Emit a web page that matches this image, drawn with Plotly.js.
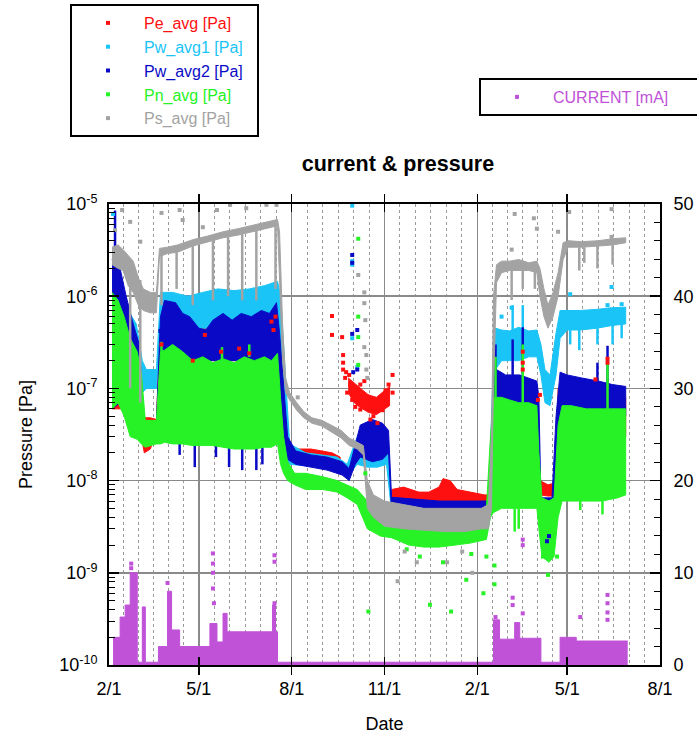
<!DOCTYPE html>
<html><head><meta charset="utf-8">
<script src="https://cdn.plot.ly/plotly-3.0.1.min.js"></script>
<style>html,body{margin:0;padding:0;background:#fff}</style>
</head><body><div id="chart" style="width:697px;height:736px"></div>
<script>
// ---------------- DATA ----------------
const xTickDates  = ['2021-02-01','2021-05-01','2021-08-01','2021-11-01','2022-02-01','2022-05-01','2022-08-01'];
const xTickLabels = ['2/1','5/1','8/1','11/1','2/1','5/1','8/1'];
const yTickVals   = [1e-10,1e-9,1e-8,1e-7,1e-6,1e-5];
const yTickLabels = ['10<sup>-10</sup>','10<sup>-9</sup>','10<sup>-8</sup>','10<sup>-7</sup>','10<sup>-6</sup>','10<sup>-5</sup>'];

const seriesNames = ['Pe_avg [Pa]','Pw_avg1 [Pa]','Pw_avg2 [Pa]','Pn_avg [Pa]','Ps_avg [Pa]','CURRENT [mA]'];

// Pe_avg : dense band rows [date, low, high]; null row = gap
const peBand = [
 ['2021-02-04',6e-8,1e-6],['2021-02-20',6e-8,5e-7],['2021-03-03',4e-8,1e-7],['2021-03-08',2e-8,4.8e-8],
 ['2021-03-14',2.2e-8,4.8e-8],['2021-03-20',3.5e-8,4.6e-8],['2021-03-24',2e-7,6e-7],['2021-04-15',2e-7,5e-7],
 ['2021-05-15',2e-7,5e-7],['2021-06-15',2e-7,5e-7],['2021-07-18',2e-7,5e-7],['2021-07-22',3e-8,2e-7],
 ['2021-07-26',1.5e-8,2.4e-8],['2021-08-01',1.6e-8,2.1e-8],['2021-08-07',1.6e-8,2.2e-8],['2021-08-20',1.7e-8,2.2e-8],
 ['2021-09-01',1.7e-8,2.1e-8],['2021-09-10',1.6e-8,2e-8],['2021-09-18',1.3e-8,1.8e-8],
 null,
 ['2021-09-26',9e-8,1.3e-7],['2021-10-02',7e-8,1.15e-7],['2021-10-08',6.2e-8,1e-7],['2021-10-16',5.5e-8,8.5e-8],
 ['2021-10-24',5.2e-8,8e-8],['2021-11-01',6e-8,9.5e-8],['2021-11-06',6.5e-8,1.05e-7],
 null,
 ['2021-11-08',5.8e-9,8e-9],['2021-11-20',5.5e-9,8.5e-9],['2021-12-05',5.5e-9,7.5e-9],['2021-12-15',5.5e-9,7.5e-9],
 ['2021-12-25',5.8e-9,8.5e-9],['2021-12-29',6e-9,1.05e-8],['2022-01-05',6e-9,1e-8],['2022-01-12',5.5e-9,8e-9],
 ['2022-01-25',5.3e-9,7.5e-9],['2022-02-08',5.3e-9,7e-9],['2022-02-13',5.5e-9,7e-9],['2022-02-16',1e-8,5e-8],
 ['2022-02-20',3e-8,1.2e-7],['2022-04-01',3e-8,1e-7],['2022-04-04',7e-9,1e-8],['2022-04-12',6.8e-9,9e-9],
 ['2022-04-20',6.8e-9,9.5e-9],['2022-04-22',3e-8,1e-7],['2022-06-28',3e-8,8e-8]
];
const peSpikes = [];
const peDots = [
 ['2021-03-25',3e-7],['2021-04-25',2e-7],['2021-05-07',3.8e-7],['2021-05-23',2.5e-7],['2021-06-10',2.7e-7],
 ['2021-06-20',2.4e-7],['2021-07-12',5.3e-7],['2021-07-14',4.3e-7],['2021-07-16',6e-7],
 ['2021-09-10',6.1e-7],['2021-09-10',3.8e-7],['2021-09-20',3.6e-7],['2021-09-21',2.3e-7],['2021-09-21',1.9e-7],
 ['2021-09-21',1.6e-7],['2021-09-23',1.3e-7],['2021-09-28',1.1e-7],['2021-09-25',9e-8],['2021-09-30',7.5e-8],
 ['2021-10-05',9.5e-8],['2021-10-08',1.1e-7],['2021-10-03',6.3e-8],['2021-10-11',7e-8],['2021-10-18',6.3e-8],
 ['2021-10-21',5e-8],['2021-10-25',4.2e-8],['2021-10-28',8e-8],['2021-11-02',9.5e-8],['2021-11-05',1.1e-7],
 ['2021-11-09',1.4e-7],['2021-11-09',9e-8],['2021-11-04',7e-8],['2021-10-15',8.2e-8],['2021-10-30',5.8e-8],
 ['2021-10-18',4.6e-8],['2021-10-08',5.9e-8],['2021-09-24',1.5e-7],['2021-09-27',1.4e-7],['2021-10-12',1.2e-7],
 ['2022-03-18',2.5e-7],['2022-03-18',1.9e-7],['2022-03-18',1.6e-7],['2022-06-10',2.1e-7],['2022-06-10',1.9e-7],
 ['2022-05-29',1.25e-7],['2022-04-02',7.5e-8],['2022-04-04',8.5e-8]
];

// Pw_avg1
const pw1Band = [
 ['2021-02-04',8e-8,1.8e-6],['2021-02-12',8e-8,1.6e-6],['2021-02-20',6e-8,7e-7],['2021-02-28',5e-8,5e-7],
 ['2021-03-06',9e-8,2e-7],['2021-03-10',1e-7,1.6e-7],['2021-03-20',1e-7,1.6e-7],['2021-03-24',4.5e-7,1.1e-6],
 ['2021-04-05',4.5e-7,1.1e-6],['2021-04-20',4.5e-7,1e-6],['2021-05-05',4.5e-7,1.1e-6],['2021-05-20',4.5e-7,1.2e-6],
 ['2021-06-05',4.5e-7,1.15e-6],['2021-06-20',5e-7,1.2e-6],['2021-07-05',5e-7,1.3e-6],['2021-07-18',5e-7,1.45e-6],
 ['2021-07-21',3e-7,1e-6],['2021-07-25',2e-8,2e-7],['2021-07-30',1.5e-8,2.5e-8],['2021-08-15',1.45e-8,2e-8],
 ['2021-09-15',1.3e-8,1.8e-8],['2021-09-25',1.1e-8,1.5e-8],['2021-10-05',1.5e-8,3e-8],['2021-10-15',1.4e-8,3.5e-8],
 ['2021-10-25',1.4e-8,3e-8],['2021-11-03',1.5e-8,3e-8],['2021-11-08',4.6e-9,5.8e-9],['2022-01-01',4.5e-9,5.6e-9],
 ['2022-02-12',4.5e-9,5.6e-9],['2022-02-16',2e-8,1e-7],['2022-02-19',1.6e-7,4.5e-7],['2022-02-25',2e-7,4.3e-7],
 ['2022-03-05',2e-7,4.2e-7],['2022-03-14',2e-7,4.6e-7],['2022-03-24',2.2e-7,4.2e-7],['2022-04-01',2.2e-7,4.3e-7],
 ['2022-04-05',1.4e-7,3e-7],['2022-04-09',7e-8,1.6e-7],['2022-04-14',6.5e-8,1.4e-7],['2022-04-20',1.4e-7,4e-7],
 ['2022-04-24',3.5e-7,7e-7],['2022-05-01',4.3e-7,7e-7],['2022-05-14',4.3e-7,7e-7],['2022-05-31',4.5e-7,7.2e-7],
 ['2022-06-14',4.8e-7,7.5e-7],['2022-06-28',5e-7,7.6e-7]
];
const pw1Spikes = [
 ['2022-05-04',3e-7,4.5e-7],['2022-05-13',2.6e-7,4.5e-7],['2022-05-31',3e-7,4.5e-7],['2022-06-15',3e-7,5e-7],
 ['2022-06-24',3.5e-7,5e-7],['2022-03-08',4e-7,8e-7],['2022-03-18',4e-7,8e-7]
];
const pw1Dots = [
 ['2021-02-05',7.8e-6],['2021-09-30',9.6e-6],['2021-09-30',2.4e-6],['2021-09-30',2.2e-6],['2021-09-30',3.5e-7],
 ['2021-10-05',1.7e-7],['2022-02-25',6e-7],['2022-03-07',7.5e-7],['2022-05-04',1.05e-6],['2022-06-10',8e-7],
 ['2022-06-14',1.26e-6],['2022-06-24',8.2e-7]
];

// Pw_avg2
const pw2Band = [
 ['2021-02-04',6e-8,2.5e-6],['2021-02-12',7e-8,2e-6],['2021-02-18',6e-8,1e-6],['2021-02-25',4e-8,5e-7],
 ['2021-03-03',3e-8,3e-7],['2021-03-08',3e-8,4.2e-8],['2021-03-20',3e-8,4.2e-8],['2021-03-24',1.6e-7,6e-7],
 ['2021-03-28',1.8e-7,9e-7],['2021-04-08',1.8e-7,8.5e-7],['2021-04-15',1.8e-7,6.5e-7],['2021-04-22',1.8e-7,6e-7],
 ['2021-05-01',2e-7,4.5e-7],['2021-05-08',2e-7,4.3e-7],['2021-05-15',2e-7,5.5e-7],['2021-05-25',2e-7,6.5e-7],
 ['2021-06-03',2e-7,5.5e-7],['2021-06-12',2e-7,6.5e-7],['2021-06-22',2e-7,6e-7],['2021-07-02',2e-7,7e-7],
 ['2021-07-10',2e-7,6.5e-7],['2021-07-17',2e-7,8.5e-7],['2021-07-20',1e-7,4e-7],['2021-07-24',3e-8,1e-7],
 ['2021-07-28',1.7e-8,3e-8],['2021-08-05',1.5e-8,2.1e-8],['2021-08-20',1.4e-8,1.9e-8],['2021-09-05',1.3e-8,1.8e-8],
 ['2021-09-20',1.15e-8,1.6e-8],['2021-09-27',1e-8,1.35e-8],['2021-10-03',1.5e-8,2.5e-8],['2021-10-08',1.8e-8,4e-8],
 ['2021-10-20',1.6e-8,4.6e-8],['2021-10-30',1.7e-8,4.2e-8],['2021-11-05',2e-8,3.5e-8],['2021-11-08',4.6e-9,6.6e-9],
 ['2021-12-01',4.6e-9,6.3e-9],['2021-12-25',4.5e-9,6e-9],['2022-01-20',4.4e-9,6e-9],['2022-02-12',4.3e-9,6e-9],
 ['2022-02-15',5e-9,2e-8],['2022-02-17',4e-8,2e-7],['2022-02-20',5e-8,1.6e-7],['2022-03-01',5e-8,1.4e-7],
 ['2022-03-15',5e-8,1.4e-7],['2022-04-01',5e-8,1.2e-7],['2022-04-03',2e-8,8e-8],['2022-04-05',2.5e-9,6.5e-9],
 ['2022-04-16',2.5e-9,6.5e-9],['2022-04-20',3e-9,5e-8],['2022-04-24',5e-8,1.5e-7],['2022-05-01',5e-8,1.4e-7],
 ['2022-05-15',5e-8,1.3e-7],['2022-06-01',5e-8,1.2e-7],['2022-06-15',5e-8,1.1e-7],['2022-06-28',5e-8,1.05e-7]
];
const pw2Spikes = [
 ['2021-02-07',2.5e-6,8.5e-6],['2021-04-12',1.9e-8,3e-8],['2021-04-27',1.4e-8,3e-8],['2021-05-18',1.8e-8,3e-8],
 ['2021-05-31',1.4e-8,3e-8],['2021-06-13',1.3e-8,3e-8],['2021-06-27',1.3e-8,3e-8],['2021-07-03',1.5e-8,3e-8],
 ['2022-02-19',1.6e-7,3e-7],['2022-03-08',1.4e-7,3.4e-7],['2022-03-18',1.4e-7,4.6e-7],['2022-05-31',1.2e-7,1.9e-7],
 ['2022-06-10',1.1e-7,2.9e-7]
];
const pw2Dots = [
 ['2021-09-30',2.8e-6],['2021-09-30',2.3e-6],['2021-09-30',3.9e-7],['2021-10-05',4.3e-7],['2021-10-01',1.5e-7],
 ['2021-10-05',1.6e-7],['2021-03-24',4.2e-7],['2022-04-11',2.2e-9],['2022-04-13',2.5e-9]
];

// Pn_avg
const pnBand = [
 ['2021-02-04',6e-8,1.1e-6],['2021-02-10',7e-8,9e-7],['2021-02-16',5e-8,6e-7],['2021-02-22',3e-8,3.5e-7],
 ['2021-03-01',2.8e-8,2.5e-7],['2021-03-05',2.5e-8,1.5e-7],['2021-03-09',2.3e-8,4.5e-8],['2021-03-20',2.5e-8,4.5e-8],
 ['2021-03-24',2.5e-8,2.5e-7],['2021-03-28',2.6e-8,2.6e-7],['2021-04-05',2.5e-8,3e-7],['2021-04-15',2.5e-8,2.5e-7],
 ['2021-04-25',2.4e-8,2e-7],['2021-05-05',2.4e-8,2.2e-7],['2021-05-15',2.4e-8,1.9e-7],['2021-05-25',2.3e-8,2.1e-7],
 ['2021-06-05',2.2e-8,1.9e-7],['2021-06-15',2.2e-8,2.2e-7],['2021-06-25',2.2e-8,2e-7],['2021-07-05',2.3e-8,2.2e-7],
 ['2021-07-12',2.3e-8,2e-7],['2021-07-18',2.5e-8,2.4e-7],['2021-07-21',1.5e-8,8e-8],['2021-07-24',1.2e-8,3e-8],
 ['2021-07-28',1e-8,1.6e-8],['2021-08-04',9e-9,1.2e-8],['2021-08-15',8e-9,1.2e-8],['2021-09-01',8e-9,1.1e-8],
 ['2021-09-15',7.5e-9,1e-8],['2021-09-25',6.5e-9,9e-9],['2021-10-05',5.5e-9,8e-9],['2021-10-15',3e-9,6e-9],
 ['2021-10-28',2.5e-9,5e-9],['2021-11-08',2.4e-9,5e-9],['2021-11-25',2e-9,4.5e-9],['2021-12-10',1.9e-9,4.5e-9],
 ['2021-12-25',1.9e-9,4.5e-9],['2022-01-10',2e-9,4.5e-9],['2022-01-25',2.1e-9,4.5e-9],['2022-02-10',2.3e-9,5e-9],
 ['2022-02-14',4e-9,3e-8],['2022-02-17',4.5e-9,8e-8],['2022-02-25',5e-9,8e-8],['2022-03-05',5e-9,7.5e-8],
 ['2022-03-14',5e-9,7e-8],['2022-03-24',5e-9,7e-8],['2022-04-01',5e-9,6.5e-8],['2022-04-03',3e-9,2e-8],
 ['2022-04-06',1.5e-9,6.5e-9],['2022-04-13',1.3e-9,6e-9],['2022-04-18',1.5e-9,6.5e-9],['2022-04-22',4e-9,4e-8],
 ['2022-04-26',6e-9,6.5e-8],['2022-05-05',6e-9,6.5e-8],['2022-05-20',6e-9,6e-8],['2022-06-05',6e-9,6e-8],
 ['2022-06-20',6.5e-9,6e-8],['2022-06-28',7e-9,6e-8]
];
const pnSpikes = [
 ['2021-03-25',2.5e-7,3.2e-7],['2021-05-24',2e-7,2.8e-7],['2021-06-20',2.2e-7,3e-7],['2022-03-10',2.8e-9,5e-9],
 ['2022-03-14',3e-9,5e-9],['2022-05-14',4.8e-9,6e-9],['2022-06-05',4.3e-9,6e-9],['2022-03-18',7e-8,3e-7],
 ['2022-06-10',6e-8,2e-7],['2022-02-19',8e-8,2.2e-7]
];
const pnDots = [
 ['2021-10-06',4.2e-6],['2021-10-06',6e-7],['2021-10-06',3.6e-7],['2021-10-06',1.8e-7],['2021-10-13',1.2e-8],
 ['2021-10-16',3.8e-10],['2021-11-23',1.8e-9],['2021-12-06',1.5e-9],['2021-12-16',4.5e-10],['2021-12-29',1.3e-9],
 ['2022-01-06',3.8e-10],['2022-01-21',8.4e-10],['2022-01-26',1.6e-9],['2022-02-07',6e-10],['2022-02-10',1.5e-9],
 ['2022-02-18',1.2e-9],['2022-02-18',7.5e-10],['2022-04-07',1.5e-9],['2022-04-12',9.5e-10],['2022-04-21',1.5e-9]
];

// Ps_avg
const psBand = [
 ['2021-02-04',2.2e-6,3.4e-6],['2021-02-10',2e-6,3.6e-6],['2021-02-15',1.9e-6,3.2e-6],['2021-02-20',1.3e-6,2.8e-6],
 ['2021-02-25',1.1e-6,2.4e-6],['2021-03-02',8e-7,1.6e-6],['2021-03-07',7e-7,1.2e-6],['2021-03-14',6.6e-7,1.1e-6],
 ['2021-03-20',6.6e-7,1.1e-6],['2021-03-23',2.7e-6,3.3e-6],['2021-03-31',2.9e-6,3.4e-6],['2021-04-10',3e-6,3.6e-6],
 ['2021-04-25',3.5e-6,4.1e-6],['2021-05-10',3.9e-6,4.5e-6],['2021-05-25',4.3e-6,5e-6],['2021-06-09',4.6e-6,5.4e-6],
 ['2021-06-24',5e-6,5.9e-6],['2021-07-09',5.5e-6,6.4e-6],['2021-07-18',5.8e-6,6.8e-6],['2021-07-20',1.5e-6,5e-6],
 ['2021-07-23',2e-7,5e-7],['2021-07-26',9e-8,1.3e-7],['2021-07-30',7.5e-8,9e-8],['2021-08-06',5.8e-8,7e-8],
 ['2021-08-13',4.8e-8,5.6e-8],['2021-08-21',4.2e-8,4.8e-8],['2021-08-31',3.9e-8,4.5e-8],['2021-09-09',3.4e-8,4e-8],
 ['2021-09-19',2.9e-8,3.5e-8],['2021-09-27',2.4e-8,2.9e-8],['2021-10-05',2.2e-8,2.6e-8],['2021-10-11',1.9e-8,2.4e-8],
 ['2021-10-15',5e-9,1e-8],['2021-10-21',4e-9,7e-9],['2021-11-01',3.2e-9,6e-9],['2021-11-20',3e-9,5.5e-9],
 ['2021-12-10',2.9e-9,5e-9],['2021-12-30',2.8e-9,5e-9],['2022-01-20',2.8e-9,5e-9],['2022-02-05',3e-9,5e-9],
 ['2022-02-12',3e-9,5.5e-9],['2022-02-15',5e-9,3e-8],['2022-02-17',1e-7,1e-6],['2022-02-20',1.4e-6,2.2e-6],
 ['2022-02-25',1.8e-6,2.4e-6],['2022-03-05',1.9e-6,2.4e-6],['2022-03-14',1.9e-6,2.5e-6],['2022-03-24',1.9e-6,2.3e-6],
 ['2022-04-01',1.8e-6,2.4e-6],['2022-04-04',1e-6,2e-6],['2022-04-08',6e-7,1.2e-6],['2022-04-12',4.5e-7,8e-7],
 ['2022-04-17',6e-7,1.1e-6],['2022-04-22',1e-6,1.8e-6],['2022-04-27',2.5e-6,3.8e-6],['2022-05-02',3.4e-6,4e-6],
 ['2022-05-15',3.4e-6,3.9e-6],['2022-06-01',3.5e-6,4e-6],['2022-06-15',3.6e-6,4.2e-6],['2022-06-28',3.8e-6,4.3e-6]
];
const psSpikes = [
 ['2021-02-22',1e-7,2.5e-6],['2021-03-04',7e-8,1.5e-6],['2021-03-25',8e-7,2.8e-6],['2021-04-09',1.2e-6,3e-6],
 ['2021-04-25',8e-7,3.5e-6],['2021-05-15',9e-7,4e-6],['2021-05-30',1e-6,4.4e-6],['2021-06-13',9e-7,4.7e-6],
 ['2021-06-27',9e-7,5.1e-6],['2021-07-16',1.2e-6,5.8e-6],
 ['2022-03-07',9.1e-7,2e-6],['2022-03-18',1.2e-6,2e-6],['2022-03-30',1.2e-6,2e-6],['2022-05-13',1.9e-6,3.4e-6],
 ['2022-05-18',2.3e-6,3.4e-6],['2022-05-31',2e-6,3.5e-6],['2022-06-15',2.2e-6,3.6e-6]
];
const psDots = [
 ['2021-02-07',5.2e-6],['2021-02-14',8.6e-6],['2021-02-22',6.4e-6],['2021-03-04',3.9e-6],['2021-03-25',8e-6],
 ['2021-04-09',3.2e-6],['2021-04-12',8.6e-6],['2021-04-15',6.7e-6],['2021-05-05',5.6e-6],['2021-05-19',8.6e-6],
 ['2021-06-01',9.8e-6],['2021-06-17',9e-6],['2021-07-07',9.8e-6],['2021-07-17',9.8e-6],['2021-08-07',8e-8],
 ['2021-10-06',1.7e-6],['2021-10-12',1.1e-6],['2021-10-12',8.4e-7],['2021-10-13',5.5e-7],['2021-10-12',2.8e-7],
 ['2021-10-14',2.3e-7],['2021-10-14',1.6e-7],['2021-10-15',1.3e-7],['2021-11-14',8.1e-10],['2021-11-21',1.7e-9],
 ['2021-12-03',1.3e-9],['2022-01-02',1.3e-9],['2022-01-17',1.7e-9],['2022-01-27',1e-9],['2022-03-07',3.2e-6],
 ['2022-03-10',7.8e-6],['2022-03-29',7e-6],['2022-04-01',5.4e-6],['2022-04-22',5e-6],['2022-05-03',8.2e-6],
 ['2022-06-14',8.8e-6],['2022-06-14',4.4e-6]
];

// CURRENT [mA] (right axis): step levels [date, value held until next date]
const curSteps = [
 ['2021-02-05',3],['2021-02-12',5.2],['2021-02-17',6.5],['2021-02-22',10],['2021-03-01',0.3],['2021-03-06',6.3],
 ['2021-03-09',0.3],['2021-03-22',2],['2021-03-31',8],['2021-04-04',3.8],['2021-04-12',2],['2021-05-12',4.5],
 ['2021-05-19',2.5],['2021-05-25',5.6],['2021-05-29',3.6],['2021-07-13',6.5],['2021-07-16',3.6],['2021-07-18',0.3],
 ['2022-02-17',4.9],['2022-02-23',2.8],['2022-03-10',4.6],['2022-03-15',2.9],['2022-04-05',0.3],['2022-04-24',3.0],
 ['2022-05-10',2.6],['2022-06-30',2.6]
];
const curDots = [
 ['2021-02-23',11],['2021-02-23',10.5],['2021-03-31',8.9],['2021-05-15',12.1],['2021-05-15',11],['2021-05-15',10],
 ['2021-05-15',8.3],['2021-05-16',6.7],['2021-07-15',11.9],['2021-07-15',11.2],['2021-07-15',6.7],['2022-02-19',5.2],
 ['2022-02-19',4.3],['2022-03-08',7.3],['2022-03-08',6.5],['2022-03-18',13.6],['2022-03-18',13],['2022-03-18',5.6],
 ['2022-05-14',5.2],['2022-06-10',7.6],['2022-06-10',6.7],['2022-06-10',5.7],['2022-06-10',4.9]
];

// ---------------- STYLE ----------------
const COL = {pe:'#ff1010', pw1:'#1ac4f6', pw2:'#0a0ac6', pn:'#26f226', ps:'#a3a3a3', cur:'#c052d8'};
const FONT = 'Liberation Sans, Arial, Helvetica, sans-serif';
const W = 697, H = 736, ML = 109, MR = 37, MT = 204, MB = 71;
const PW = W - ML - MR, PH = H - MT - MB;

// ---------------- BUILD ----------------
function bandTraces(rows, color){
  const segs = []; let cur = [];
  rows.forEach(r => { if (r === null){ if (cur.length) segs.push(cur); cur = []; } else cur.push(r); });
  if (cur.length) segs.push(cur);
  return segs.map(s => {
    const d = s.map(r => r[0]), lo = s.map(r => r[1]), hi = s.map(r => r[2]);
    return {type:'scatter', mode:'lines', x: d.concat(d.slice().reverse()), y: hi.concat(lo.slice().reverse()),
      fill:'toself', fillcolor: color, line:{color: color, width: 1}, showlegend:false, hoverinfo:'skip'};
  });
}
function spikeTrace(rows, color){
  const x = [], y = [];
  rows.forEach(r => { x.push(r[0], r[0], null); y.push(r[1], r[2], null); });
  return {type:'scatter', mode:'lines', x, y, line:{color: color, width: 2.5}, showlegend:false, hoverinfo:'skip'};
}
function dotTrace(rows, color, name, legend, yaxis, padCount){
  return {type:'scatter', mode:'markers', x: rows.map(r => r[0]), y: rows.map(r => r[1]),
    marker:{symbol:'square', size:4, color: color, line:{width:0}},
    name: '<span style="color:' + color + '">' + name + '</span>' + '\u00a0'.repeat(padCount),
    legend: legend, yaxis: yaxis || 'y', showlegend:true};
}

const traces = [];
const series = [
  [peBand, peSpikes, peDots, COL.pe, seriesNames[0]],
  [pw1Band, pw1Spikes, pw1Dots, COL.pw1, seriesNames[1]],
  [pw2Band, pw2Spikes, pw2Dots, COL.pw2, seriesNames[2]],
  [pnBand, pnSpikes, pnDots, COL.pn, seriesNames[3]],
  [psBand, psSpikes, psDots, COL.ps, seriesNames[4]]
];
series.forEach(s => {
  bandTraces(s[0], s[3]).forEach(t => traces.push(t));
  if (s[1].length) traces.push(spikeTrace(s[1], s[3]));
});
series.forEach(s => traces.push(dotTrace(s[2], s[3], s[4], 'legend', 'y', 2)));

traces.push({type:'scatter', mode:'lines', x: curSteps.map(r => r[0]), y: curSteps.map(r => r[1]), yaxis:'y2',
  line:{shape:'hv', color: COL.cur, width: 1}, fill:'tozeroy', fillcolor: COL.cur, showlegend:false, hoverinfo:'skip'});
traces.push(dotTrace(curDots, COL.cur, seriesNames[5], 'legend2', 'y2', 9));

// minor ticks / grid
const minorX = [];
for (let i = 0; i < xTickDates.length - 1; i++){
  const a = Date.parse(xTickDates[i]), b = Date.parse(xTickDates[i+1]);
  for (let k = 1; k < 6; k++){
    minorX.push(new Date(a + (b - a) * k / 6).toISOString().slice(0,19).replace('T',' '));
  }
}
const minorY = [];
for (let e = -10; e < -5; e++) for (let m = 2; m < 10; m++) minorY.push(m * Math.pow(10, e));

const axisCommon = {showline:true, linecolor:'#000', linewidth:2, ticks:'inside', tickcolor:'#000',
  tickwidth:1.5, zeroline:false, tickfont:{family: FONT, size:18, color:'#000'}};

// legend boxes placed in paper coordinates (pixel positions converted)
const legBox = {x: (70 - ML) / PW, y: (H - MB - 4) / PH};
const leg2Box = {x: (479 - ML) / PW, y: (H - MB - 78) / PH};

const layout = {
  width: W, height: H,
  margin:{l: ML, r: MR, t: MT, b: MB, pad:0, autoexpand:false},
  paper_bgcolor:'#fff', plot_bgcolor:'#fff',
  font:{family: FONT, size:18, color:'#000'},
  title:{text:'<b>current &amp; pressure</b>', font:{family: FONT, size:21.5, color:'#000'},
    xref:'container', yref:'container', x: 0.571, xanchor:'center', y: 1 - 163/H, yanchor:'middle'},
  xaxis: Object.assign({}, axisCommon, {
    type:'date', range:['2021-02-01','2022-08-01'], tickmode:'array', tickvals: xTickDates, ticktext: xTickLabels,
    ticklen:8, mirror:'allticks', showgrid:true, gridcolor:'#8a8a8a', gridwidth:1.5,
    minor:{tickmode:'array', tickvals: minorX, ticks:'', showgrid:true, gridcolor:'#9a9a9a', gridwidth:1, griddash:'dot'},
    ticklabelstandoff: 6,
    title:{text:'Date', font:{family: FONT, size:18, color:'#000'}, standoff: 20}
  }),
  yaxis: Object.assign({}, axisCommon, {
    type:'log', range:[-10,-5], tickmode:'array', tickvals: yTickVals, ticktext: yTickLabels, ticklen:10,
    minor:{tickmode:'array', tickvals: minorY, ticks:'inside', ticklen:6, tickwidth:1, tickcolor:'#000', showgrid:false},
    showgrid:true, gridcolor:'#8a8a8a', gridwidth:1.5, ticklabelstandoff: 6,
    title:{text:'Pressure [Pa]', font:{family: FONT, size:18, color:'#000'}, standoff: 22}
  }),
  yaxis2: Object.assign({}, axisCommon, {
    overlaying:'y', side:'right', range:[0,50], tickmode:'linear', tick0:0, dtick:10, ticklen:10,
    minor:{dtick:2, ticks:'inside', ticklen:6, tickwidth:1, tickcolor:'#000', showgrid:false},
    showgrid:false, ticklabelstandoff: 8
  }),
  legend:{xref:'paper', yref:'paper', x: legBox.x, y: legBox.y, xanchor:'left', yanchor:'top',
    bgcolor:'#fff', bordercolor:'#000', borderwidth:2, font:{family: FONT, size:16, color:'#000'},
    itemwidth:62, tracegroupgap:0, traceorder:'normal'},
  legend2:{xref:'paper', yref:'paper', x: leg2Box.x, y: leg2Box.y, xanchor:'left', yanchor:'top',
    bgcolor:'#fff', bordercolor:'#000', borderwidth:2, font:{family: FONT, size:16, color:'#000'},
    itemwidth:62}
};

Plotly.newPlot('chart', traces, layout, {displayModeBar:false, staticPlot:true});
</script></body></html>
